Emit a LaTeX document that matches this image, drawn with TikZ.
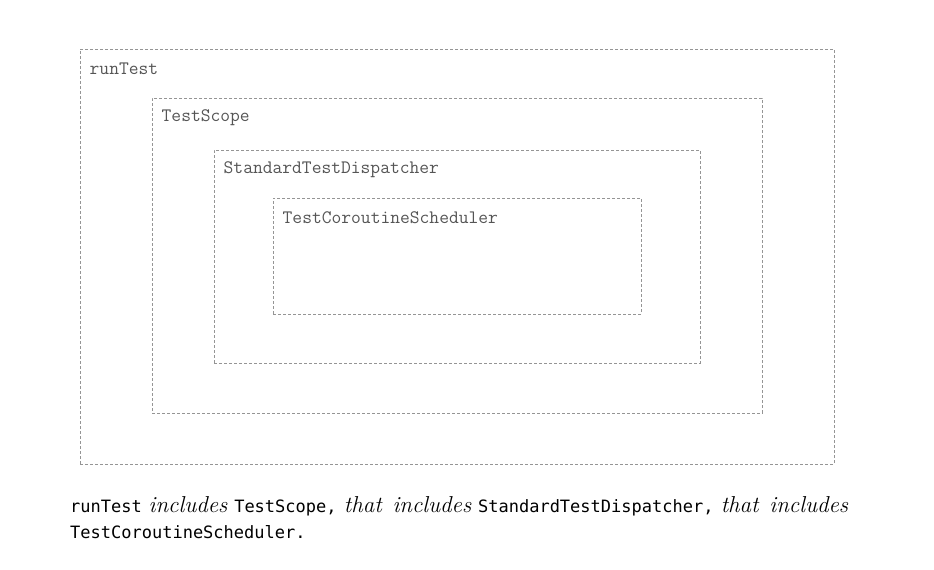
\documentclass[tikz,border=0pt]{standalone}
\usepackage{fontspec}
\newfontfamily\capmono{DejaVu Sans Mono}
\definecolor{dashgray}{HTML}{959595}
\definecolor{labelgray}{HTML}{555555}
\newcommand{\capital}[1]{{\fontsize{23}{26}\selectfont\itshape #1}}
\begin{document}
\begin{tikzpicture}[x=1pt,y=1pt,
  frame/.style={draw=dashgray, line width=1pt, dash pattern=on 3pt off 2pt, rectangle, inner sep=0pt},
  lbl/.style={anchor=west, inner sep=0pt, text=labelgray, font=\ttfamily\fontsize{19}{20}\selectfont},
]
\useasboundingbox (0,0) rectangle (934,-570);
\node[frame, minimum width=754pt, minimum height=415pt] (runtest) at (457,-256.5) {};
\node[frame, minimum width=610pt, minimum height=315pt] (scope) at (457,-255.5) {};
\node[frame, minimum width=486pt, minimum height=213pt] (disp) at (457,-256.5) {};
\node[frame, minimum width=368pt, minimum height=116pt] (sched) at (457,-256) {};
\node[lbl] (l1) at ([shift={(10,-20)}]runtest.north west) {runTest};
\node[lbl] (l2) at ([shift={(10,-20)}]scope.north west) {TestScope};
\node[lbl] (l3) at ([shift={(10,-20)}]disp.north west) {StandardTestDispatcher};
\node[lbl] (l4) at ([shift={(10,-20)}]sched.north west) {TestCoroutineScheduler};
\node[anchor=north west, inner sep=0pt, text width=778pt, align=justify,
  font=\fontsize{17}{26}\selectfont] (cap) at (70,-496)
  {\hyphenpenalty=10000 \exhyphenpenalty=10000 {\capmono runTest} \capital{includes} {\capmono TestScope,} \capital{that includes} {\capmono StandardTestDispatcher,} \capital{that includes} {\capmono TestCoroutineScheduler.}};
\end{tikzpicture}
\end{document}
